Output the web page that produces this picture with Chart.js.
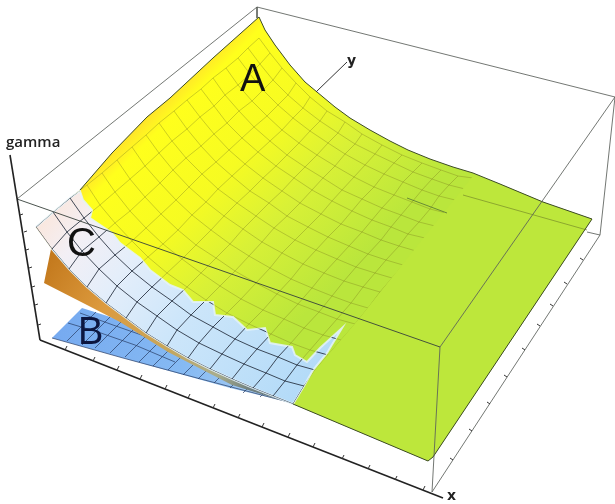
<!DOCTYPE html>
<html><head><meta charset="utf-8">
<style>html,body{margin:0;padding:0;background:#fff}canvas{display:block;filter:blur(0.4px)}</style>
<script src="https://cdn.jsdelivr.net/npm/chart.js@4"></script></head>
<body><canvas id="c" width="615" height="504"></canvas>
<script>
const meshX = [
[36,52,69,87,106,126,146,167,188,210,232,253,273,293],
[53,67,82,99,117,137,157,177,199,222,244,266,285,304],
[70,84,99,115,132,152,172,191,213,235,257,278,297,315],
[87,100,115,132,148,167,187,206,227,249,271,291,310,328],
[102,115,130,146,163,182,201,220,241,263,284,304,323,341],
[117,130,145,161,178,196,216,235,256,277,298,319,337,355],
[132,145,160,176,192,211,230,249,270,291,312,332,351,368],
[146,159,173,189,206,224,243,262,282,303,324,344,363,380],
[159,172,186,202,218,237,256,274,295,316,337,356,375,392],
[174,187,201,216,232,250,269,287,308,328,349,368,386,403],
[187,200,214,229,245,263,282,300,321,341,362,381,399,416],
[201,214,227,242,258,276,294,312,332,352,372,391,408,425],
[213,225,239,254,270,287,305,323,342,362,382,401,419,435],
[226,238,252,267,282,299,317,335,354,374,394,412,430,446],
[238,250,263,278,293,310,328,345,365,384,403,422,439,455],
[248,260,273,288,303,320,338,355,375,394,413,432,449,465],
[259,270,282,296,310,327,345,362,382,402,422,441,458,473]];
const meshY = [
[227,249,269,287,303,318,333,346,358,369,379,388,396,404],
[212,232,251,269,286,302,316,330,343,354,364,373,381,386],
[198,218,237,255,271,287,301,315,327,339,349,357,365,370],
[185,205,223,241,257,273,287,300,313,324,334,343,350,355],
[173,192,211,228,244,259,273,286,299,310,319,328,335,340],
[160,179,197,214,230,245,258,271,283,294,304,312,319,324],
[147,166,183,200,215,230,244,256,268,279,288,296,303,308],
[135,153,170,187,202,216,229,242,253,264,273,281,287,292],
[123,141,158,174,189,203,216,228,240,250,259,267,273,278],
[111,129,146,162,176,191,203,216,227,237,246,254,260,265],
[100,117,134,150,164,178,191,203,214,224,232,240,246,251],
[89,106,123,138,152,166,178,190,201,211,220,227,234,238],
[78,95,111,127,141,155,167,178,190,199,208,215,222,226],
[68,85,101,116,130,143,155,166,177,187,195,202,209,213],
[58,74,90,105,118,131,143,154,165,174,182,190,196,200],
[48,64,80,95,108,121,133,144,154,163,172,179,185,189],
[38,53,68,83,97,111,122,134,145,155,163,170,176,178]];

const surfaceA = [[36,227],[70,198],[80,190],[112,153],[147,117],[170,98],[213,58],[259,17],[265,30],[275,45],[290,65],[305,82],[317,92],[335,107],[350,118],[370,130],[390,141],[408,150],[430,159],[453,167],[473,173],[500,184],[543,202],[592,219],[433,457],[428,461],[293,404]];
const flatPart = [[473,176],[500,184],[543,202],[592,219],[433,457],[428,461],[293,404],[315,370],[358,320]];
const surfaceEdge = [[80,190],[112,153],[147,117],[170,98],[213,58],[259,17],[265,30],[275,45],[290,65],[305,82],[317,92],[335,107],[350,118],[370,130],[390,141],[408,150],[430,159],[453,167],[473,173],[500,184],[543,202],[592,219],[433,457],[428,461],[293,404]];
const surfaceC = [[36,227],[70,198],[80,191],[83,200],[92,210],[90,218],[112,233],[120,243],[140,258],[150,270],[170,285],[183,290],[193,302],[213,302],[215,315],[233,317],[247,330],[265,328],[270,343],[292,347],[295,355],[307,362],[320,348],[342,328],[327,353],[313,370],[304,386],[293,404],[273,396],[253,388],[232,379],[210,369],[188,358],[167,346],[146,333],[126,318],[106,303],[87,287],[69,269],[52,249]];
const surfaceOrange = [[51,249],[69,269],[87,287],[106,303],[126,318],[146,333],[167,346],[188,358],[232,379],[290,403],[232,385],[168,352],[120,322],[87,305],[44,283]];
const surfaceB = [[52,338],[82,308],[120,320],[200,365],[292,403],[230,388],[123,358]];
const meshB = [
[[52,338],[123,358],[197,378],[292,403]],
[[67,341],[96,312]],[[82,345],[112,315]],[[95,348],[125,318]],[[110,353],[140,323]],
[[125,357],[155,327]],[[139,362],[169,332]],[[153,366],[183,336]],[[168,370],[198,340]],
[[183,375],[213,345]],[[198,379],[228,349]],[[214,383],[244,353]],[[230,388],[260,358]],
[[243,393],[273,363]],[[260,397],[290,367]],
[[68,323],[98,332],[135,345],[175,362]],
[[80,313],[113,325],[150,338]]];
const boxLight = [
[[17,199],[257,7],[615,97]],[[257,7],[257,18]],[[615,97],[600,235],[432,492]],
[[600,235],[587,232]],[[615,97],[440,347],[432,492]]];
const boxEdgeFront = [[17,199],[440,347]];
const rearLine = [[463,195],[587,230]];
const darkSegment = [[407,198],[447,213]];
const axisX = [[40,340],[443,498]];
const axisGamma = [[10,155],[40,340]];
const axisYStub = [[316,92],[347,62]];
const tickLines = [
[[20,215],[23,214]],[[24,232],[27,231]],[[26,250],[29,249]],[[29,268],[32,267]],[[32,287],[35,286]],[[35,305],[38,304]],[[38,325],[41,324]],
[[65,350],[67,346]],[[93,361],[95,357]],[[117,370],[119,366]],[[140,379],[142,375]],[[165,389],[167,385]],[[188,398],[190,394]],[[213,408],[215,404]],[[238,418],[240,414]],[[262,427],[264,423]],[[288,437],[290,433]],[[313,447],[315,443]],[[342,459],[344,455]],[[368,469],[370,465]],[[395,480],[397,476]],[[423,490],[425,486]],
[[583,260],[580,258]],[[567,284],[564,282]],[[553,306],[550,304]],[[540,326],[537,324]],[[525,350],[522,348]],[[507,377],[504,375]],[[490,404],[487,402]],[[472,431],[469,429]],[[453,460],[450,458]]];
const labelText = ['A','B','C','gamma','x','y'];
const labelX = [240,78,67,6,447,347];
const labelY = [91,344,256,147,500,65];
const labelFont = ['38px "Liberation Sans"','38px "Liberation Sans"','40px "Liberation Sans"','600 15px "Open Sans"','bold 14px "DejaVu Sans"','bold 14px "DejaVu Sans"'];
const labelColor = ['#111','#0c1640','#111','#222','#222','#222'];

const canvas = document.getElementById('c');
const g = canvas.getContext('2d');
function grad(x0,y0,x1,y1,stops){
  const l = g.createLinearGradient(x0,y0,x1,y1);
  stops.forEach(s=>l.addColorStop(s[0],s[1]));
  return l;
}
const toPts = a => a.map(p=>({x:p[0],y:p[1]}));
const sets = [];
function poly(a,fillStyle,extra){
  sets.push(Object.assign({data:toPts(a),showLine:true,fill:'shape',backgroundColor:fillStyle,borderWidth:0,borderColor:'rgba(0,0,0,0)',pointRadius:0,tension:0},extra||{}));
}
function line(a,color,w,extra){
  sets.push(Object.assign({data:toPts(a),showLine:true,fill:false,borderColor:color,borderWidth:w,pointRadius:0,tension:0},extra||{}));
}
function mesh(color,w,extra){
  meshX.forEach((r,j)=>line(r.map((x,i)=>[x,meshY[j][i]]),color,w,extra));
  meshX[0].forEach((_,i)=>line(meshX.map((r,j)=>[r[i],meshY[j][i]]),color,w,extra));
}
poly(surfaceA,grad(172,92,350,270,[[0,'#ffe42a'],[.07,'#ffff1c'],[.38,'#f6fb22'],[.64,'#d9f136'],[1,'#bae63c']]));
mesh('rgba(125,130,30,0.38)',1);
poly(flatPart,'#bde73b');
line(rearLine,'rgba(120,140,40,0.7)',1);
line(darkSegment,'rgba(70,100,50,0.7)',1);
poly(surfaceB,grad(55,330,290,400,[[0,'#76aaf0'],[.55,'#86baf3'],[1,'#b0d2f2']]));
meshB.forEach(l=>line(l,'rgba(40,60,100,0.7)',1));
poly(surfaceOrange,grad(50,260,250,390,[[0,'#c47a1e'],[.3,'#dd9b3e'],[.6,'#c8a65a'],[.85,'#a9ad8c'],[1,'#6f7f7f']]));
poly(surfaceC,grad(50,215,290,400,[[0,'#f9e8e0'],[.12,'#f3eff5'],[.3,'#e4eefa'],[.55,'#cde6fa'],[1,'#b4dbf8']]),{borderColor:'rgba(228,242,250,0.85)',borderWidth:2});
mesh('rgba(35,45,60,0.85)',1,{clipToC:true});
line(surfaceEdge,'#3c4a26',1);
boxLight.forEach(l=>line(l,'rgba(90,95,90,0.85)',1));
line(boxEdgeFront,'rgba(55,65,60,0.9)',1);
line(axisX,'#222',1.6);
line(axisGamma,'#222',1.6);
line(axisYStub,'#333',1);
tickLines.forEach(l=>line(l,'#333',1));
sets.forEach((d,i)=>{d.order = sets.length-i;});

const helper = {
  id:'surfaceHelper',
  beforeDatasetDraw(chart,args){
    if(!chart.data.datasets[args.index].clipToC) return;
    const c=chart.ctx, X=chart.scales.x, Y=chart.scales.y;
    c.save(); c.beginPath();
    surfaceC.forEach((p,i)=>{const px=X.getPixelForValue(p[0]),py=Y.getPixelForValue(p[1]); i?c.lineTo(px,py):c.moveTo(px,py);});
    c.closePath(); c.clip();
  },
  afterDatasetDraw(chart,args){
    if(chart.data.datasets[args.index].clipToC) chart.ctx.restore();
  },
  afterDraw(chart){
    const c=chart.ctx, X=chart.scales.x, Y=chart.scales.y;
    c.save(); c.textAlign='left'; c.textBaseline='alphabetic';
    labelText.forEach((t,i)=>{
      c.font=labelFont[i]; c.fillStyle=labelColor[i];
      c.fillText(t,X.getPixelForValue(labelX[i]),Y.getPixelForValue(labelY[i]));
    });
    c.restore();
  }
};
new Chart(canvas,{
  type:'scatter',
  data:{datasets:sets},
  plugins:[helper],
  options:{
    responsive:false,animation:false,events:[],
    layout:{padding:0},
    plugins:{legend:{display:false},tooltip:{enabled:false},title:{display:false}},
    scales:{
      x:{type:'linear',min:0,max:615,display:false},
      y:{type:'linear',min:0,max:504,reverse:true,display:false}
    }
  }
});
</script></body></html>
